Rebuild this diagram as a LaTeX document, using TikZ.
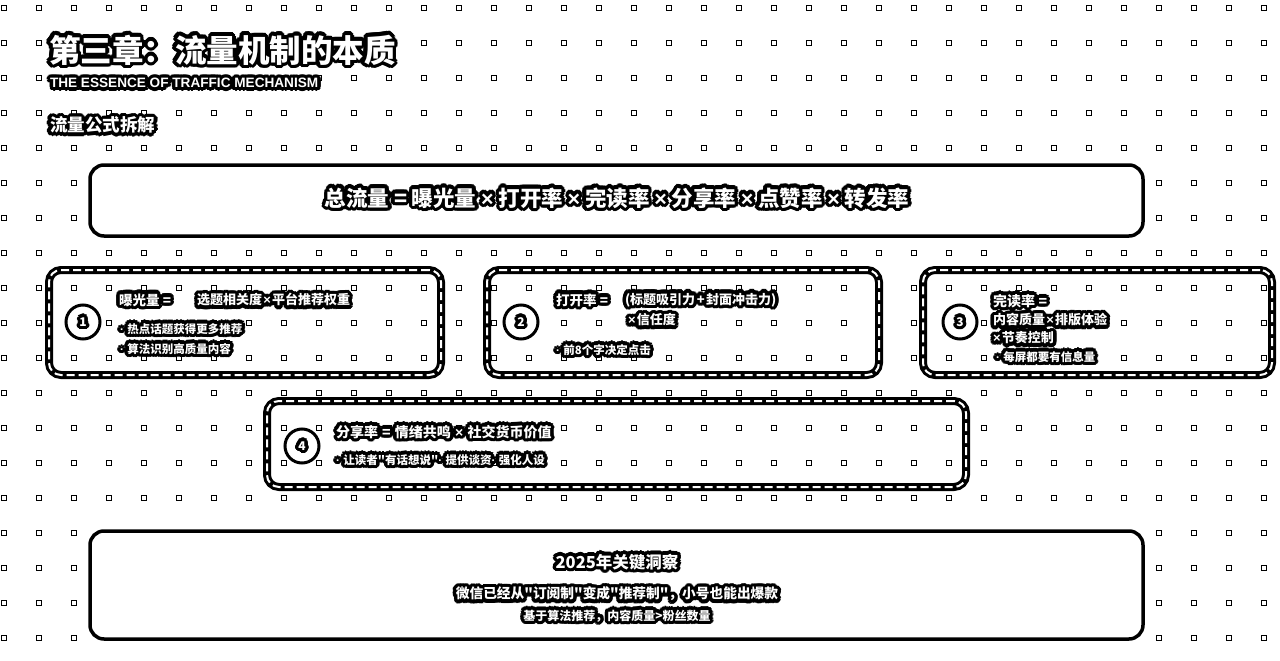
\documentclass[tikz,border=0pt]{standalone}
\usepackage{fontspec}
\newfontfamily\cjk{Noto Sans CJK SC}
\newfontfamily\latinfont{Liberation Sans}
\newcommand\fsz[1]{\cjk\fontsize{#1pt}{#1pt}\selectfont\bfseries}
\newcommand\lsz[1]{\latinfont\fontsize{#1pt}{#1pt}\selectfont\bfseries}
\newcommand\X[1]{\hspace{#1em}{\latinfont\bfseries ×}\hspace{#1em}}
\newcommand\EQ[1]{\hspace{#1em}={}\hspace{#1em}}
\newcommand\PL[1]{\hspace{#1em}+\hspace{#1em}}
\newcommand\DT{{\latinfont\bfseries ·}\hspace{0.3em}}
\tikzset{
  gtxt/.style={inner sep=0pt, outer sep=0pt},
  dotsq/.style={draw=black, line width=1.8pt, fill=white},
  dashbox/.style={rectangle, draw=black, line width=8pt, rounded corners=12pt, inner sep=0pt,
    postaction={draw=white, line width=2pt, dash pattern=on 8pt off 4pt}},
  panel/.style={rectangle, draw=black, line width=3.5pt, fill=white, rounded corners=14pt, inner sep=0pt},
  numcircle/.style={circle, draw=black, line width=3pt, fill=white, minimum size=34pt, inner sep=0pt},
}
\newcommand\glowtext[4][]{%
  \foreach \gang in {0,22.5,...,337.5}{\node[gtxt,#1,text=black,shift={(\gang:3.5)}] at (#3) {#4};}%
  \foreach \gang in {0,30,...,330}{\node[gtxt,#1,text=black,shift={(\gang:2.4)}] at (#3) {#4};}%
  \foreach \gang in {0,45,...,315}{\node[gtxt,#1,text=black,shift={(\gang:1.2)}] at (#3) {#4};}%
  \node[gtxt,#1,text=white] (#2) at (#3) {#4};%
}
\begin{document}
\begin{tikzpicture}[x=1pt,y=-1pt]
\useasboundingbox (0,0) rectangle (1280,661);
\fill[white] (0,0) rectangle (1280,661);
% dot grid
\foreach \i in {0,...,36}{\foreach \j in {0,...,18}{%
  \draw[dotsq] ({1.5+35*\i},{5.5+35*\j}) rectangle ++(5,5);}}
% panels
\node[panel, minimum width=1053pt, minimum height=71pt] (formulabox) at (616.5,200.5) {};
\node[panel, minimum width=1053pt, minimum height=108pt] (insightbox) at (616.5,585) {};
\node[dashbox, minimum width=392pt, minimum height=105pt] (box1) at (245,322.5) {};
\node[dashbox, minimum width=392pt, minimum height=105pt] (box2) at (683,322.5) {};
\node[dashbox, minimum width=349pt, minimum height=105pt] (box3) at (1097.5,322.5) {};
\node[dashbox, minimum width=699pt, minimum height=86pt] (box4) at (616.5,444) {};
% circles
\node[numcircle] (c1) at (83,322) {};
\node[numcircle] (c2) at (521,322) {};
\node[numcircle] (c3) at (960,322) {};
\node[numcircle] (c4) at (302,446) {};
\glowtext[font=\fsz{12}]{n1}{c1}{1}
\glowtext[font=\fsz{12}]{n2}{c2}{2}
\glowtext[font=\fsz{12}]{n3}{c3}{3}
\glowtext[font=\fsz{12}]{n4}{c4}{4}
% titles
\glowtext[anchor=west,font=\fsz{31.5}]{title}{49,50}{第三章：流量机制的本质}
\glowtext[anchor=west,font=\lsz{13.6}]{subtitle}{50,83}{THE ESSENCE OF TRAFFIC MECHANISM}
\glowtext[anchor=west,font=\fsz{17.5}]{heading}{50,125}{流量公式拆解}
% formula
\glowtext[font=\fsz{21.5}]{formula}{617,198}{总流量\EQ{0.22}曝光量\X{0.22}打开率\X{0.22}完读率\X{0.22}分享率\X{0.22}点赞率\X{0.22}转发率}
% box 1
\glowtext[anchor=west,font=\fsz{13.5}]{b1a}{119,300}{曝光量\EQ{0.25}}
\glowtext[anchor=west,font=\fsz{13}]{b1b}{197,300}{选题相关度\X{0.1}平台推荐权重}
\glowtext[anchor=west,font=\fsz{11.5}]{b1c}{120,329}{\DT 热点话题获得更多推荐}
\glowtext[anchor=west,font=\fsz{11.5}]{b1d}{120,349}{\DT 算法识别高质量内容}
% box 2
\glowtext[anchor=west,font=\fsz{13.5}]{b2a}{556,300}{打开率\EQ{0.25}}
\glowtext[anchor=west,font=\fsz{13}]{b2b}{625,300}{(标题吸引力\PL{0.12}封面冲击力)}
\glowtext[anchor=west,font=\fsz{13}]{b2c}{628,320}{{\latinfont\bfseries ×}\hspace{0.1em}信任度}
\glowtext[anchor=west,font=\fsz{11.5}]{b2d}{556,350}{\DT 前8个字决定点击}
% box 3
\glowtext[anchor=west,font=\fsz{14}]{b3a}{993,301}{完读率\EQ{0.25}}
\glowtext[anchor=west,font=\fsz{13}]{b3b}{993,320}{内容质量\X{0.1}排版体验}
\glowtext[anchor=west,font=\fsz{13}]{b3c}{993,338}{{\latinfont\bfseries ×}\hspace{0.1em}节奏控制}
\glowtext[anchor=west,font=\fsz{11.5}]{b3d}{996,357}{\DT 每屏都要有信息量}
% box 4
\glowtext[anchor=west,font=\fsz{14}]{b4a}{336,432}{分享率\EQ{0.3}情绪共鸣\X{0.3}社交货币价值}
\glowtext[anchor=west,font=\fsz{11.5}]{b4b}{336,460}{\DT 让读者"有话想说"\DT 提供谈资\DT 强化人设}
% insight
\glowtext[font=\fsz{16.5}]{ins1}{617,562}{2025年关键洞察}
\glowtext[font=\fsz{13.7}]{ins2}{617,594}{微信已经从"订阅制"变成"推荐制"，小号也能出爆款}
\glowtext[font=\fsz{12}]{ins3}{617,616}{基于算法推荐，内容质量>粉丝数量}
\end{tikzpicture}
\end{document}
